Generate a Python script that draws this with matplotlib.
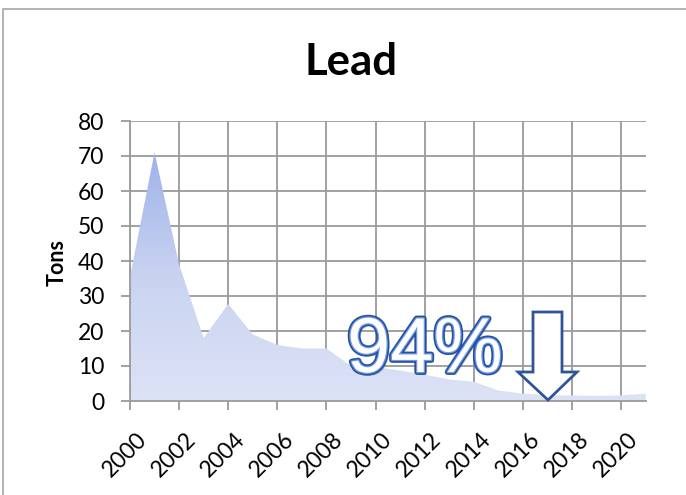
import matplotlib
matplotlib.use("Agg")
import matplotlib.pyplot as plt
import matplotlib.patheffects as pe
import matplotlib.transforms as mtransforms
from matplotlib.patches import Polygon, Rectangle
from matplotlib.colors import LinearSegmentedColormap
import numpy as np

years = list(range(2000, 2022))
lead_tons = [35.5, 71, 39, 18, 27.7, 19, 16, 15, 15, 10, 9.7, 8.7, 7.5, 6.2,
             5.5, 3.0, 2.1, 1.7, 1.6, 1.5, 1.6, 2.1]
x_ticks = list(range(2000, 2021, 2))
x_tick_labels = [str(y) for y in x_ticks]
y_ticks = list(range(0, 81, 10))
title = "Lead"
y_label = "Tons"
badge = "94%"

W, H = 686, 495
fig = plt.figure(figsize=(W / 100, H / 100), dpi=100)
fig.patch.set_facecolor("white")

# outer chart frame (cropped on right/bottom like the reference)
fig.patches.append(Rectangle((3 / W, -0.05), 1.2, 1 - 9 / H + 0.05,
                             transform=fig.transFigure, fill=False,
                             edgecolor="#a6a6a6", lw=1.2))

ax = fig.add_axes([130 / W, 1 - 401 / H, (645.7 - 130) / W, (401 - 121) / H])

grid_c = "#9a9a9a"
ax.set_xticks(x_ticks)
ax.set_xticklabels([])
ax.set_yticks(y_ticks)
ax.grid(True, color=grid_c, lw=1.3, zorder=0)
ax.set_axisbelow(True)
for s in ["top", "right"]:
    ax.spines[s].set_visible(False)
for s in ["left", "bottom"]:
    ax.spines[s].set_color(grid_c)
    ax.spines[s].set_linewidth(1.3)
ax.tick_params(axis="both", direction="out", length=6.5, width=1.3, color=grid_c)
ax.tick_params(axis="y", pad=12, labelsize=16.5, labelfontfamily="Lato")

# rotated x labels
offset = mtransforms.ScaledTranslation(6 / 100, -28 / 100, fig.dpi_scale_trans)
for xv, lab in zip(x_ticks, x_tick_labels):
    ax.text(xv, 0, lab, transform=ax.get_xaxis_transform() + offset,
            rotation=45, rotation_mode="anchor", ha="right", va="top",
            fontsize=16.5, family="Lato", clip_on=False)

# gradient filled area
poly = ax.fill_between(years, lead_tons, 0, color="none", lw=0, zorder=2)
cmap = LinearSegmentedColormap.from_list("g", ["#dde3f6", "#c9d3f1", "#9eb2ea"])
grad = np.linspace(0, 1, 256).reshape(-1, 1)
im = ax.imshow(grad, cmap=cmap, origin="lower", aspect="auto",
               extent=[2000, 2021, 0, max(lead_tons)], zorder=2)
path = poly.get_paths()[0]
im.set_clip_path(path, transform=ax.transData)
ax.set_xlim(2000, 2021)
ax.set_ylim(0, 80)

fig.text(57 / W, 1 - 262 / H, y_label, rotation=90, ha="center", va="center",
         fontsize=15.5, fontweight="bold", family="Lato")
fig.text(351 / W, 1 - 62 / H, title, ha="center", va="center", fontsize=31.5,
         fontweight="bold", family="Lato")

# badge text
t = fig.text(347 / W, 1 - 372 / H, badge, ha="left", va="baseline",
             fontsize=56, family="Liberation Sans", color="white", zorder=5)
t.set_path_effects([
    pe.SimplePatchShadow(offset=(2, -2), shadow_rgbFace="#555555", alpha=0.3),
    pe.Stroke(linewidth=4.2, foreground="#24519f"),
    pe.Stroke(linewidth=1.8, foreground="#6f98e8"),
    pe.Normal(),
])

# down arrow outline
pts_px = [(533, 312), (562, 312), (562, 372), (577, 372), (548, 400),
          (518, 372), (533, 372)]
pts = [(x / W, 1 - y / H) for x, y in pts_px]
fig.patches.append(Polygon(pts, closed=True, transform=fig.transFigure,
                           facecolor="white", edgecolor="#2f5597", lw=2,
                           zorder=6))

fig.savefig("out.png", dpi=100)
